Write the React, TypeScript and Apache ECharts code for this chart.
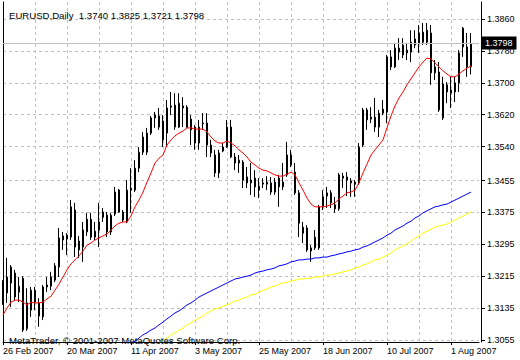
import React, { useEffect, useRef } from 'react';
import * as echarts from 'echarts';

const chartTitle = 'EURUSD,Daily  1.3740 1.3825 1.3721 1.3798';
const copyrightText = 'MetaTrader, © 2001-2007 MetaQuotes Software Corp.';
const firstDay: [number, number, number] = [2007, 2, 26];
const MONTHS = ['Jan', 'Feb', 'Mar', 'Apr', 'May', 'Jun', 'Jul', 'Aug', 'Sep', 'Oct', 'Nov', 'Dec'];

const openPrices = [
  1.3198, 1.3173, 1.3238, 1.3223, 1.3175, 1.3210, 1.3083, 1.3130, 1.3150, 1.3148,
  1.3113, 1.3188, 1.3190, 1.3205, 1.3238, 1.3316, 1.3308, 1.3313, 1.3381, 1.3303,
  1.3288, 1.3326, 1.3358, 1.3313, 1.3331, 1.3376, 1.3368, 1.3326, 1.3371, 1.3431,
  1.3376, 1.3351, 1.3436, 1.3431, 1.3486, 1.3564, 1.3526, 1.3574, 1.3612, 1.3617,
  1.3604, 1.3574, 1.3639, 1.3644, 1.3589, 1.3637, 1.3639, 1.3609, 1.3589, 1.3549,
  1.3597, 1.3599, 1.3544, 1.3519, 1.3474, 1.3529, 1.3539, 1.3589, 1.3514, 1.3499,
  1.3501, 1.3464, 1.3449, 1.3461, 1.3431, 1.3449, 1.3446, 1.3449, 1.3426, 1.3439,
  1.3439, 1.3469, 1.3494, 1.3476, 1.3424, 1.3338, 1.3336, 1.3278, 1.3286, 1.3286,
  1.3389, 1.3416, 1.3424, 1.3394, 1.3384, 1.3466, 1.3464, 1.3454, 1.3451, 1.3449,
  1.3544, 1.3632, 1.3609, 1.3614, 1.3589, 1.3634, 1.3627, 1.3765, 1.3740, 1.3777,
  1.3795, 1.3775, 1.3777, 1.3810, 1.3800, 1.3827, 1.3802, 1.3825, 1.3725, 1.3727,
  1.3612, 1.3695, 1.3674, 1.3677, 1.3700, 1.3837, 1.3790, 1.3740,
];
const highPrices = [
  1.3205, 1.3261, 1.3243, 1.3231, 1.3213, 1.3215, 1.3185, 1.3188, 1.3188, 1.3160,
  1.3193, 1.3213, 1.3226, 1.3248, 1.3336, 1.3326, 1.3323, 1.3406, 1.3399, 1.3316,
  1.3351, 1.3374, 1.3374, 1.3351, 1.3399, 1.3386, 1.3376, 1.3374, 1.3439, 1.3434,
  1.3381, 1.3456, 1.3486, 1.3506, 1.3539, 1.3577, 1.3587, 1.3617, 1.3627, 1.3637,
  1.3619, 1.3657, 1.3677, 1.3674, 1.3674, 1.3664, 1.3644, 1.3619, 1.3594, 1.3607,
  1.3624, 1.3624, 1.3557, 1.3532, 1.3532, 1.3549, 1.3607, 1.3607, 1.3524, 1.3519,
  1.3506, 1.3489, 1.3499, 1.3481, 1.3461, 1.3461, 1.3466, 1.3464, 1.3461, 1.3469,
  1.3499, 1.3552, 1.3532, 1.3499, 1.3431, 1.3351, 1.3343, 1.3293, 1.3331, 1.3394,
  1.3431, 1.3439, 1.3431, 1.3414, 1.3474, 1.3474, 1.3476, 1.3461, 1.3456, 1.3549,
  1.3637, 1.3637, 1.3639, 1.3662, 1.3632, 1.3657, 1.3770, 1.3782, 1.3800, 1.3812,
  1.3812, 1.3800, 1.3832, 1.3832, 1.3845, 1.3850, 1.3850, 1.3845, 1.3757, 1.3752,
  1.3715, 1.3702, 1.3715, 1.3715, 1.3782, 1.3840, 1.3825, 1.3825,
];
const lowPrices = [
  1.3143, 1.3148, 1.3138, 1.3155, 1.3150, 1.3075, 1.3078, 1.3113, 1.3130, 1.3088,
  1.3105, 1.3175, 1.3180, 1.3200, 1.3213, 1.3281, 1.3268, 1.3306, 1.3263, 1.3261,
  1.3251, 1.3316, 1.3306, 1.3306, 1.3288, 1.3351, 1.3313, 1.3318, 1.3366, 1.3374,
  1.3351, 1.3348, 1.3374, 1.3426, 1.3476, 1.3519, 1.3519, 1.3569, 1.3587, 1.3582,
  1.3539, 1.3539, 1.3619, 1.3582, 1.3587, 1.3589, 1.3587, 1.3544, 1.3532, 1.3532,
  1.3582, 1.3514, 1.3514, 1.3464, 1.3461, 1.3526, 1.3537, 1.3511, 1.3481, 1.3474,
  1.3436, 1.3436, 1.3419, 1.3414, 1.3411, 1.3436, 1.3431, 1.3419, 1.3419, 1.3389,
  1.3431, 1.3464, 1.3489, 1.3419, 1.3313, 1.3298, 1.3276, 1.3251, 1.3281, 1.3281,
  1.3381, 1.3386, 1.3386, 1.3374, 1.3379, 1.3436, 1.3416, 1.3414, 1.3414, 1.3444,
  1.3539, 1.3582, 1.3599, 1.3577, 1.3564, 1.3619, 1.3599, 1.3732, 1.3737, 1.3757,
  1.3762, 1.3757, 1.3752, 1.3787, 1.3775, 1.3795, 1.3795, 1.3695, 1.3707, 1.3627,
  1.3607, 1.3649, 1.3637, 1.3652, 1.3677, 1.3765, 1.3715, 1.3721,
];
const closePrices = [
  1.3150, 1.3213, 1.3198, 1.3163, 1.3190, 1.3080, 1.3148, 1.3180, 1.3180, 1.3115,
  1.3188, 1.3193, 1.3213, 1.3241, 1.3311, 1.3306, 1.3318, 1.3389, 1.3288, 1.3281,
  1.3331, 1.3358, 1.3313, 1.3328, 1.3351, 1.3363, 1.3326, 1.3368, 1.3426, 1.3376,
  1.3356, 1.3431, 1.3431, 1.3486, 1.3526, 1.3526, 1.3574, 1.3612, 1.3619, 1.3589,
  1.3557, 1.3637, 1.3642, 1.3589, 1.3649, 1.3642, 1.3589, 1.3582, 1.3549, 1.3589,
  1.3599, 1.3544, 1.3524, 1.3474, 1.3524, 1.3539, 1.3589, 1.3514, 1.3499, 1.3506,
  1.3456, 1.3449, 1.3456, 1.3439, 1.3441, 1.3446, 1.3451, 1.3426, 1.3451, 1.3461,
  1.3451, 1.3519, 1.3519, 1.3424, 1.3348, 1.3323, 1.3281, 1.3286, 1.3313, 1.3389,
  1.3414, 1.3424, 1.3399, 1.3384, 1.3469, 1.3461, 1.3456, 1.3449, 1.3446, 1.3539,
  1.3632, 1.3607, 1.3614, 1.3589, 1.3624, 1.3624, 1.3765, 1.3740, 1.3787, 1.3787,
  1.3770, 1.3782, 1.3802, 1.3795, 1.3825, 1.3802, 1.3832, 1.3725, 1.3740, 1.3632,
  1.3697, 1.3677, 1.3682, 1.3700, 1.3775, 1.3790, 1.3740, 1.3798,
];
const redAverage = [
  1.3118, 1.3135, 1.3150, 1.3155, 1.3155, 1.3150, 1.3143, 1.3150, 1.3148, 1.3148,
  1.3150, 1.3158, 1.3165, 1.3180, 1.3195, 1.3213, 1.3231, 1.3246, 1.3256, 1.3266,
  1.3278, 1.3293, 1.3298, 1.3306, 1.3311, 1.3316, 1.3321, 1.3331, 1.3341, 1.3348,
  1.3351, 1.3351, 1.3366, 1.3389, 1.3406, 1.3426, 1.3451, 1.3474, 1.3499, 1.3511,
  1.3519, 1.3544, 1.3557, 1.3567, 1.3574, 1.3579, 1.3587, 1.3587, 1.3584, 1.3584,
  1.3584, 1.3577, 1.3564, 1.3554, 1.3549, 1.3549, 1.3554, 1.3549, 1.3542, 1.3532,
  1.3524, 1.3514, 1.3501, 1.3494, 1.3486, 1.3481, 1.3479, 1.3474, 1.3469, 1.3466,
  1.3466, 1.3471, 1.3476, 1.3469, 1.3449, 1.3431, 1.3411, 1.3396, 1.3389, 1.3389,
  1.3389, 1.3391, 1.3394, 1.3399, 1.3409, 1.3416, 1.3424, 1.3426, 1.3431, 1.3449,
  1.3474, 1.3496, 1.3519, 1.3532, 1.3544, 1.3557, 1.3587, 1.3617, 1.3642, 1.3662,
  1.3677, 1.3695, 1.3710, 1.3725, 1.3740, 1.3752, 1.3762, 1.3760, 1.3750, 1.3740,
  1.3730, 1.3722, 1.3715, 1.3715, 1.3722, 1.3730, 1.3737, 1.3742,
];
const blueStart = 32;
const blueAverage = [
  1.3047, 1.3052, 1.3060, 1.3068, 1.3073, 1.3080, 1.3085, 1.3093, 1.3100, 1.3108,
  1.3115, 1.3123, 1.3128, 1.3135, 1.3143, 1.3148, 1.3155, 1.3163, 1.3168, 1.3173,
  1.3178, 1.3183, 1.3188, 1.3193, 1.3198, 1.3203, 1.3208, 1.3210, 1.3213, 1.3215,
  1.3218, 1.3223, 1.3226, 1.3228, 1.3231, 1.3233, 1.3236, 1.3241, 1.3243, 1.3246,
  1.3251, 1.3253, 1.3256, 1.3256, 1.3258, 1.3258, 1.3261, 1.3261, 1.3263, 1.3263,
  1.3266, 1.3268, 1.3271, 1.3273, 1.3276, 1.3278, 1.3281, 1.3283, 1.3288, 1.3291,
  1.3296, 1.3301, 1.3306, 1.3311, 1.3318, 1.3323, 1.3331, 1.3336, 1.3341, 1.3348,
  1.3353, 1.3361, 1.3366, 1.3374, 1.3379, 1.3384, 1.3389, 1.3391, 1.3394, 1.3396,
  1.3401, 1.3406, 1.3411, 1.3416, 1.3421, 1.3426,
];
const yellowStart = 39;
const yellowAverage = [
  1.3047, 1.3055, 1.3060, 1.3068, 1.3073, 1.3080, 1.3085, 1.3093, 1.3098, 1.3105,
  1.3110, 1.3115, 1.3123, 1.3128, 1.3133, 1.3135, 1.3140, 1.3143, 1.3148, 1.3153,
  1.3155, 1.3160, 1.3163, 1.3168, 1.3170, 1.3175, 1.3180, 1.3183, 1.3188, 1.3190,
  1.3195, 1.3198, 1.3200, 1.3203, 1.3205, 1.3208, 1.3208, 1.3210, 1.3210, 1.3213,
  1.3213, 1.3215, 1.3218, 1.3218, 1.3221, 1.3223, 1.3226, 1.3228, 1.3231, 1.3236,
  1.3238, 1.3243, 1.3246, 1.3251, 1.3256, 1.3258, 1.3263, 1.3268, 1.3273, 1.3281,
  1.3286, 1.3291, 1.3296, 1.3303, 1.3311, 1.3316, 1.3323, 1.3328, 1.3333, 1.3338,
  1.3341, 1.3343, 1.3346, 1.3351, 1.3356, 1.3361, 1.3366, 1.3371, 1.3376,
];
const priceTickLabels = [
  '1.3055', '1.3135', '1.3215', '1.3295', '1.3375', '1.3455',
  '1.3540', '1.3620', '1.3700', '1.3780', '1.3860',
];
const lastPrice = 1.3798;

const FONT = '"Liberation Sans", Arial, sans-serif';
const GRID_DASH = [3, 3];

function tradingDays(start: [number, number, number], n: number): string[] {
  const out: string[] = [];
  const d = new Date(Date.UTC(start[0], start[1] - 1, start[2]));
  while (out.length < n) {
    const wd = d.getUTCDay();
    if (wd !== 0 && wd !== 6) {
      out.push(`${d.getUTCDate()} ${MONTHS[d.getUTCMonth()]} ${d.getUTCFullYear()}`);
    }
    d.setUTCDate(d.getUTCDate() + 1);
  }
  return out;
}

export default function App() {
  const ref = useRef<HTMLDivElement>(null);

  useEffect(() => {
    if (!ref.current) return;
    const chart = echarts.init(ref.current, undefined, { renderer: 'svg' });
    const n = closePrices.length;
    const categories = tradingDays(firstDay, n).concat(['', '']);
    const candles = openPrices.map((o, i) => [o, closePrices[i], lowPrices[i], highPrices[i]]);
    const padSeries = (start: number, vals: number[]) =>
      Array.from({ length: n }, (_, i) => (i >= start && i - start < vals.length ? vals[i - start] : null));
    const tickValues = priceTickLabels.map(Number);

    chart.setOption({
      animation: false,
      backgroundColor: '#ffffff',
      textStyle: { fontFamily: FONT },
      title: [
        {
          text: chartTitle,
          left: 4,
          top: 5,
          textStyle: { fontSize: 9.6, fontWeight: 'normal', color: '#000', fontFamily: FONT },
        },
        {
          text: copyrightText,
          left: 4,
          top: 330,
          textStyle: { fontSize: 9.6, fontWeight: 'normal', color: '#000', fontFamily: FONT },
        },
      ],
      grid: { left: 3, right: 41, top: 2, bottom: 18 },
      xAxis: {
        type: 'category',
        data: categories,
        boundaryGap: false,
        axisLine: { show: true, lineStyle: { color: '#000', width: 1 } },
        axisTick: { show: true, interval: 15, length: 3, lineStyle: { color: '#000' } },
        axisLabel: {
          interval: 15,
          align: 'left',
          margin: 4,
          fontSize: 9,
          color: '#000',
          fontFamily: FONT,
        },
        splitLine: { show: true, interval: 7, lineStyle: { color: '#c0c0c0', type: GRID_DASH, width: 1 } },
      },
      yAxis: [
        {
          type: 'value',
          position: 'right',
          min: 1.305,
          max: 1.39027,
          offset: 2,
          axisLine: { show: true, lineStyle: { color: '#000', width: 1 } },
          axisTick: { show: true, inside: false, length: 4, customValues: tickValues, lineStyle: { color: '#000' } },
          axisLabel: {
            customValues: tickValues,
            formatter: (v: number) => v.toFixed(4),
            margin: 6,
            fontSize: 9,
            color: '#000',
            fontFamily: FONT,
          },
          splitLine: { show: true, lineStyle: { color: '#c0c0c0', type: GRID_DASH, width: 1 } },
        },
        {
          type: 'value',
          position: 'left',
          min: 1.305,
          max: 1.39027,
          axisLine: { show: true, lineStyle: { color: '#000', width: 1 } },
          axisTick: { show: false },
          axisLabel: { show: false },
          splitLine: { show: false },
        },
      ],
      series: [
        {
          type: 'candlestick',
          yAxisIndex: 0,
          data: candles,
          barWidth: 2,
          itemStyle: {
            color: '#ffffff',
            color0: '#000000',
            borderColor: '#000000',
            borderColor0: '#000000',
            borderWidth: 1,
          },
          markLine: {
            silent: true,
            symbol: ['none', 'none'],
            data: [{ yAxis: lastPrice }],
            lineStyle: { color: '#c0c0c0', type: 'solid', width: 1 },
            label: {
              show: true,
              position: 'end',
              distance: 2,
              formatter: lastPrice.toFixed(4),
              backgroundColor: '#000',
              color: '#fff',
              padding: [2, 4, 2, 4],
              fontSize: 9,
              fontFamily: FONT,
            },
          },
        },
        {
          type: 'line',
          yAxisIndex: 0,
          data: redAverage,
          symbol: 'none',
          lineStyle: { color: '#ff0000', width: 1 },
          itemStyle: { color: '#ff0000' },
        },
        {
          type: 'line',
          yAxisIndex: 0,
          data: padSeries(blueStart, blueAverage),
          symbol: 'none',
          lineStyle: { color: '#0000ff', width: 1 },
          itemStyle: { color: '#0000ff' },
        },
        {
          type: 'line',
          yAxisIndex: 0,
          data: padSeries(yellowStart, yellowAverage),
          symbol: 'none',
          lineStyle: { color: '#ffff00', width: 1 },
          itemStyle: { color: '#ffff00' },
        },
      ],
    });
    return () => chart.dispose();
  }, []);

  return <div ref={ref} style={{ position: 'absolute', left: 0, top: 0, width: 520, height: 360 }} />;
}
